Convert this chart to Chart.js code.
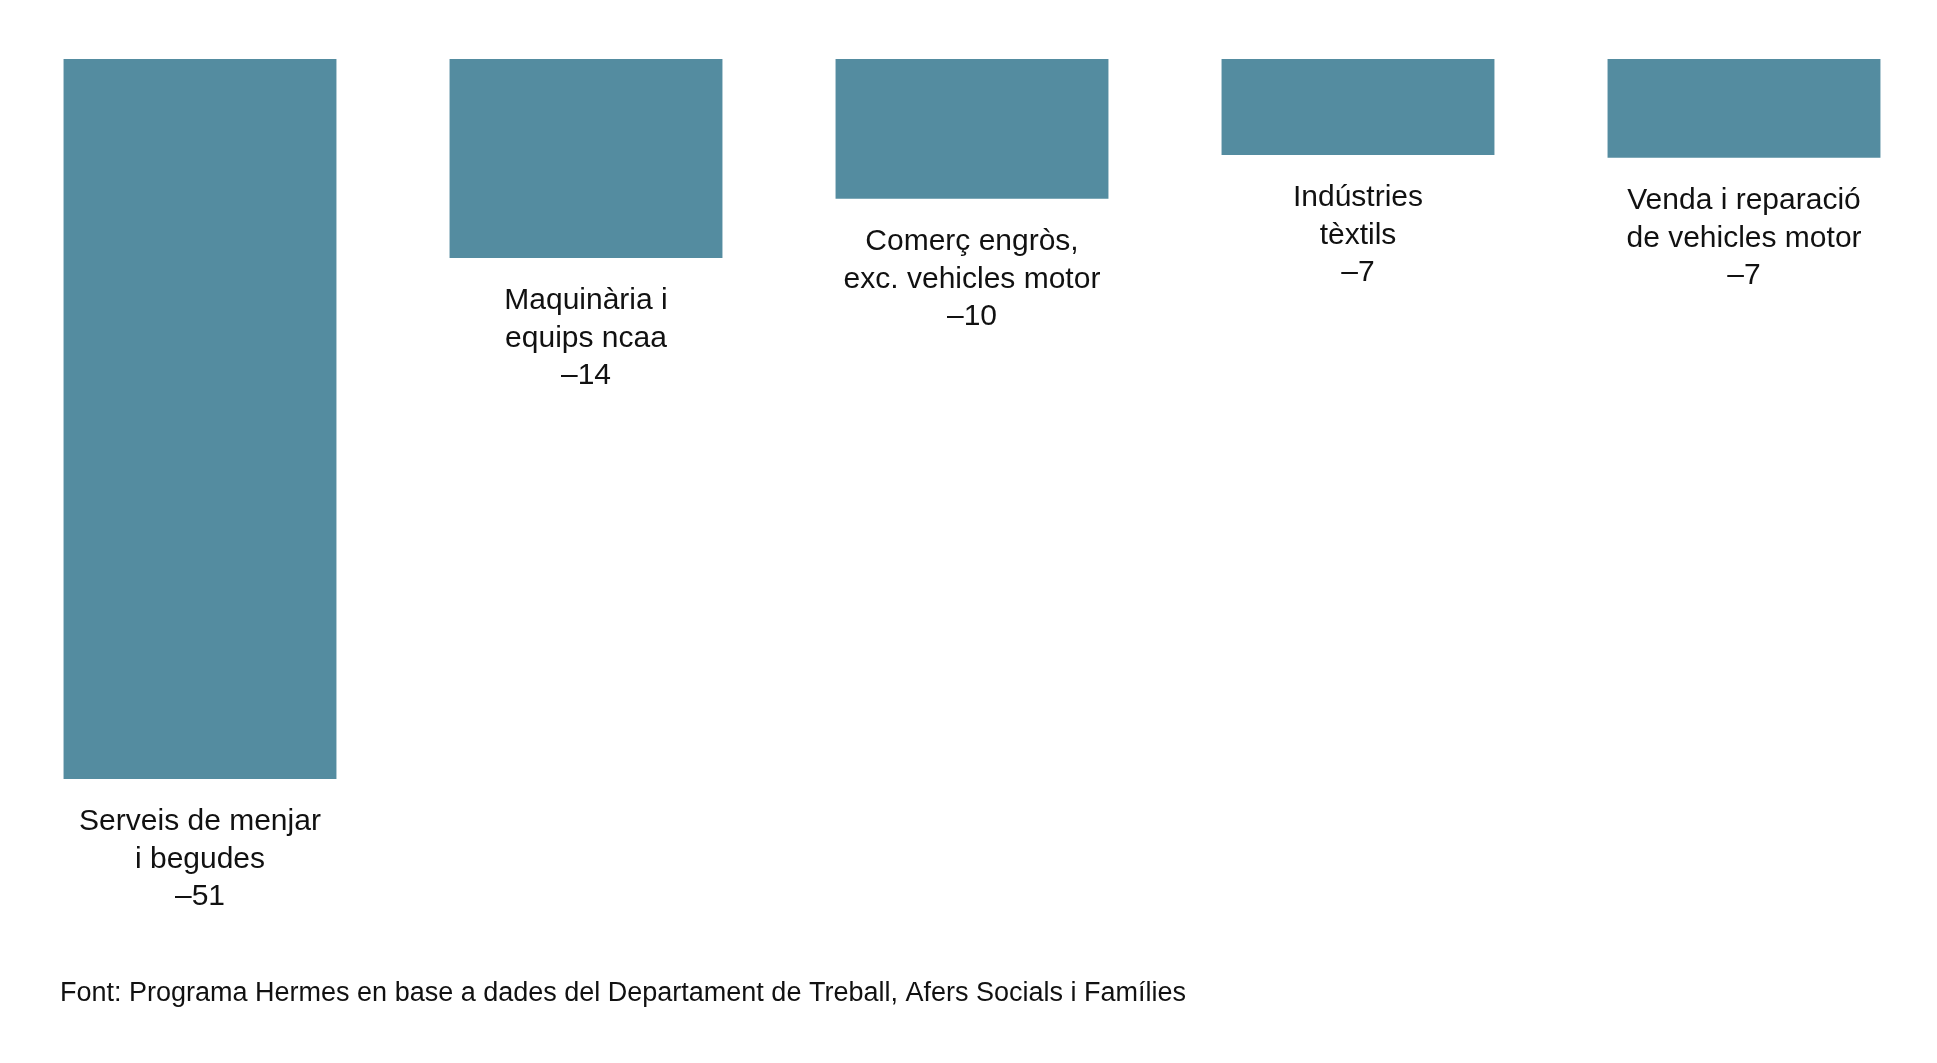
<!DOCTYPE html>
<html>
<head>
<meta charset="utf-8">
<script src="https://cdn.jsdelivr.net/npm/chart.js@4"></script>
<style>
  html, body { margin: 0; padding: 0; background: #fff; overflow: hidden; }
</style>
</head>
<body>
<canvas id="c" width="1937" height="1063"></canvas>
<script>
const categories = [
  ['Serveis de menjar', 'i begudes'],
  ['Maquinària i', 'equips ncaa'],
  ['Comerç engròs,', 'exc. vehicles motor'],
  ['Indústries', 'tèxtils'],
  ['Venda i reparació', 'de vehicles motor']
]
const values = [-51, -14.1, -9.9, -6.8, -7.0]
const valueLabels = ['–51', '–14', '–10', '–7', '–7']
const source = 'Font: Programa Hermes en base a dades del Departament de Treball, Afers Socials i Famílies'

const FONT = '"Liberation Sans", Arial, sans-serif'

// labels under each bar + source line
const labelPlugin = {
  id: 'barLabels',
  afterDatasetsDraw(chart) {
    const ctx = chart.ctx
    const meta = chart.getDatasetMeta(0)
    ctx.save()
    ctx.fillStyle = '#111'
    ctx.textAlign = 'center'
    ctx.textBaseline = 'middle'
    ctx.font = '30px ' + FONT
    meta.data.forEach((bar, i) => {
      const lines = categories[i].concat([valueLabels[i]])
      lines.forEach((line, j) => {
        ctx.fillText(line, bar.x, bar.y + 43 + j * 37.5)
      })
    })
    ctx.textAlign = 'left'
    ctx.font = '27px ' + FONT
    ctx.fillText(source, 60, 994)
    ctx.restore()
  }
}

new Chart(document.getElementById('c').getContext('2d'), {
  type: 'bar',
  data: {
    labels: categories.map(c => c.join(' ')),
    datasets: [{
      data: values,
      backgroundColor: '#548ca0',
      barPercentage: 0.707,
      categoryPercentage: 1
    }]
  },
  options: {
    responsive: false,
    animation: false,
    layout: { padding: { top: 59, bottom: 284, left: 7, right: 0 } },
    plugins: { legend: { display: false }, tooltip: { enabled: false } },
    scales: {
      x: { display: false },
      y: { display: false, min: -51, max: 0 }
    }
  },
  plugins: [labelPlugin]
})
</script>
</body>
</html>
